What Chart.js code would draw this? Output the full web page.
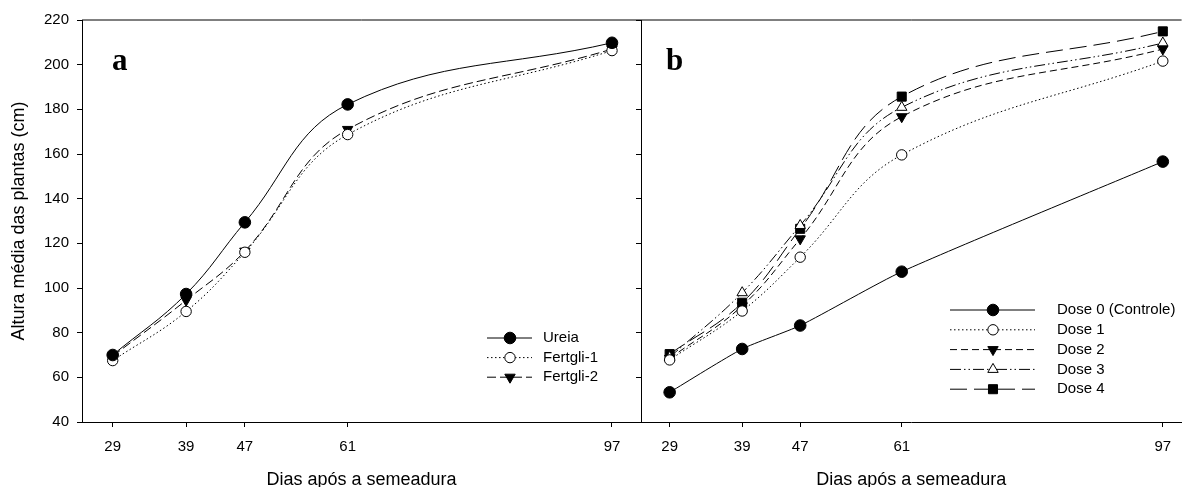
<!DOCTYPE html>
<html>
<head>
<meta charset="utf-8">
<script src="https://cdn.jsdelivr.net/npm/chart.js@4.4.1/dist/chart.umd.min.js"></script>
<style>
  html, body { margin: 0; padding: 0; background: #fff; }
  #wrap { position: relative; width: 1189px; height: 487px; overflow: hidden; }
  #wrap canvas { position: absolute; top: 0; }
</style>
</head>
<body>
<div id="wrap">
  <canvas id="panelA" width="660" height="487" style="left:0"></canvas>
  <canvas id="panelB" width="589" height="487" style="left:600px"></canvas>
</div>
<script>
// sampling days (x) and mean plant height in cm (y)
const days = [29, 39, 47, 61, 97];
const alturaTicks = [40, 60, 80, 100, 120, 140, 160, 180, 200, 220];

const fontesLabels = ['Ureia', 'Fertgli-1', 'Fertgli-2'];
const ureia    = [70.0, 97.3, 129.4, 182.2, 209.8];
const fertgli1 = [67.5, 89.5, 116.0, 168.7, 206.3];
const fertgli2 = [69.5, 94.5, 116.5, 171.0, 207.0];

const dosesLabels = ['Dose 0 (Controle)', 'Dose 1', 'Dose 2', 'Dose 3', 'Dose 4'];
const dose0 = [53.3, 72.7, 83.2, 107.3, 156.6];
const dose1 = [67.8, 89.7, 113.8, 159.6, 201.6];
const dose2 = [68.5, 92.0, 122.0, 176.7, 207.0];
const dose3 = [69.0, 97.9, 128.0, 180.9, 209.7];
const dose4 = [70.4, 93.4, 126.5, 185.7, 214.9];

const xTitle = 'Dias após a semeadura';
const yTitle = 'Altura média das plantas (cm)';

const SANS = '"Liberation Sans", Arial, Helvetica, sans-serif';
Chart.defaults.font.family = SANS;
Chart.defaults.color = '#000';

// line + marker look for each series
const STYLES = {
  solidDot:  { borderDash: [],                   pointStyle: 'circle',   pointRadius: 5.8, pointRotation: 0,   pointBackgroundColor: '#000' },
  dotOpen:   { borderDash: [1.5, 2.5],           pointStyle: 'circle',   pointRadius: 5.2, pointRotation: 0,   pointBackgroundColor: '#fff' },
  dashDown:  { borderDash: [9, 4],               pointStyle: 'triangle', pointRadius: 6,   pointRotation: 180, pointBackgroundColor: '#000' },
  shortDash: { borderDash: [7, 4],               pointStyle: 'triangle', pointRadius: 6,   pointRotation: 180, pointBackgroundColor: '#000' },
  dashDotDot:{ borderDash: [11, 3, 1.5, 3, 1.5, 3], pointStyle: 'triangle', pointRadius: 6, pointRotation: 0,   pointBackgroundColor: '#fff' },
  longDash:  { borderDash: [17, 7],              pointStyle: 'rect',     pointRadius: 6.4, pointRotation: 0,   pointBackgroundColor: '#000' }
};

function series(label, values, style, tension) {
  return Object.assign({
    label: label,
    data: days.map((d, i) => ({ x: d, y: values[i] })),
    borderColor: '#000',
    borderWidth: 1,
    pointBorderColor: '#000',
    pointBorderWidth: 1,
    tension: tension === undefined ? 0.4 : tension,
    fill: false
  }, STYLES[style]);
}

// frame top edge, panel letter and the line/marker key
const panelDecor = {
  id: 'panelDecor',
  afterDraw(chart, args, opts) {
    const ctx = chart.ctx, a = chart.chartArea;
    ctx.save();
    ctx.strokeStyle = '#000';
    ctx.lineWidth = 1;
    ctx.beginPath();
    ctx.moveTo(a.left, a.top);
    ctx.lineTo(a.right, a.top);
    ctx.stroke();

    ctx.fillStyle = '#000';
    ctx.font = 'bold 31px "Liberation Serif", "Times New Roman", serif';
    ctx.textBaseline = 'alphabetic';
    ctx.textAlign = 'left';
    ctx.fillText(opts.letter, a.left + opts.letterDx, opts.letterY);

    const k = opts.key;
    ctx.font = '15px ' + SANS;
    ctx.textBaseline = 'middle';
    chart.data.datasets.forEach((ds, i) => {
      const y = k.y + i * k.gap;
      ctx.strokeStyle = '#000';
      ctx.lineWidth = 1;
      ctx.setLineDash(ds.borderDash);
      ctx.beginPath();
      ctx.moveTo(k.x0, y);
      ctx.lineTo(k.x1, y);
      ctx.stroke();
      ctx.setLineDash([]);
      ctx.fillStyle = ds.pointBackgroundColor;
      Chart.helpers.drawPoint(ctx, {
        pointStyle: ds.pointStyle, radius: ds.pointRadius,
        rotation: ds.pointRotation, borderWidth: 1
      }, k.xm, y);
      ctx.fillStyle = '#000';
      ctx.fillText(ds.label, k.xt, y);
    });
    ctx.restore();
  }
};

function panelOptions(cfg) {
  return {
    responsive: false,
    animation: false,
    events: [],
    layout: { padding: { left: 0, top: 20, right: cfg.padRight, bottom: 0 } },
    plugins: {
      legend: { display: false },
      tooltip: { enabled: false },
      panelDecor: cfg.decor
    },
    scales: {
      x: {
        type: 'linear',
        min: cfg.xMin,
        max: cfg.xMax,
        afterBuildTicks: s => { s.ticks = days.map(v => ({ value: v })); },
        afterFit: s => { s.height = 65; },
        grid: { drawOnChartArea: false, drawTicks: true, tickLength: 5, color: '#000' },
        border: { display: true, color: '#000', width: 1 },
        ticks: { font: { size: 15 }, padding: 11, maxRotation: 0, autoSkip: false },
        title: { display: true, text: xTitle, font: { size: 18 }, padding: { top: 0, bottom: -4 } }
      },
      y: {
        type: 'linear',
        min: 40,
        max: 220,
        afterBuildTicks: s => { s.ticks = alturaTicks.map(v => ({ value: v })); },
        afterFit: s => { s.width = cfg.yWidth; },
        grid: { drawOnChartArea: false, drawTicks: true, tickLength: 5, color: '#000' },
        border: { display: true, color: '#000', width: 1 },
        ticks: { display: cfg.yLabels, font: { size: 15 }, padding: 8 },
        title: { display: cfg.yLabels, text: yTitle, font: { size: 18 }, padding: { top: 8, bottom: 0 } }
      }
    }
  };
}

new Chart(document.getElementById('panelA'), {
  type: 'line',
  data: {
    datasets: [
      series(fontesLabels[0], ureia, 'solidDot'),
      series(fontesLabels[1], fertgli1, 'dotOpen'),
      series(fontesLabels[2], fertgli2, 'dashDown')
    ]
  },
  options: panelOptions({
    padRight: 19, xMin: 24.82, xMax: 100.95, yWidth: 82, yLabels: true,
    decor: { letter: 'a', letterDx: 30, letterY: 70,
             key: { x0: 487, x1: 532, xm: 510, xt: 543, y: 338, gap: 19.6 } }
  }),
  plugins: [panelDecor]
});

new Chart(document.getElementById('panelB'), {
  type: 'line',
  data: {
    datasets: [
      series(dosesLabels[0], dose0, 'solidDot', 0.2),
      series(dosesLabels[1], dose1, 'dotOpen'),
      series(dosesLabels[2], dose2, 'shortDash'),
      series(dosesLabels[3], dose3, 'dashDotDot'),
      series(dosesLabels[4], dose4, 'longDash')
    ]
  },
  options: panelOptions({
    padRight: 1, xMin: 25.05, xMax: 99.59, yWidth: 41, yLabels: false,
    decor: { letter: 'b', letterDx: 25, letterY: 70,
             key: { x0: 350, x1: 435, xm: 393, xt: 457, y: 310, gap: 19.8 } }
  }),
  plugins: [panelDecor]
});
</script>
</body>
</html>
